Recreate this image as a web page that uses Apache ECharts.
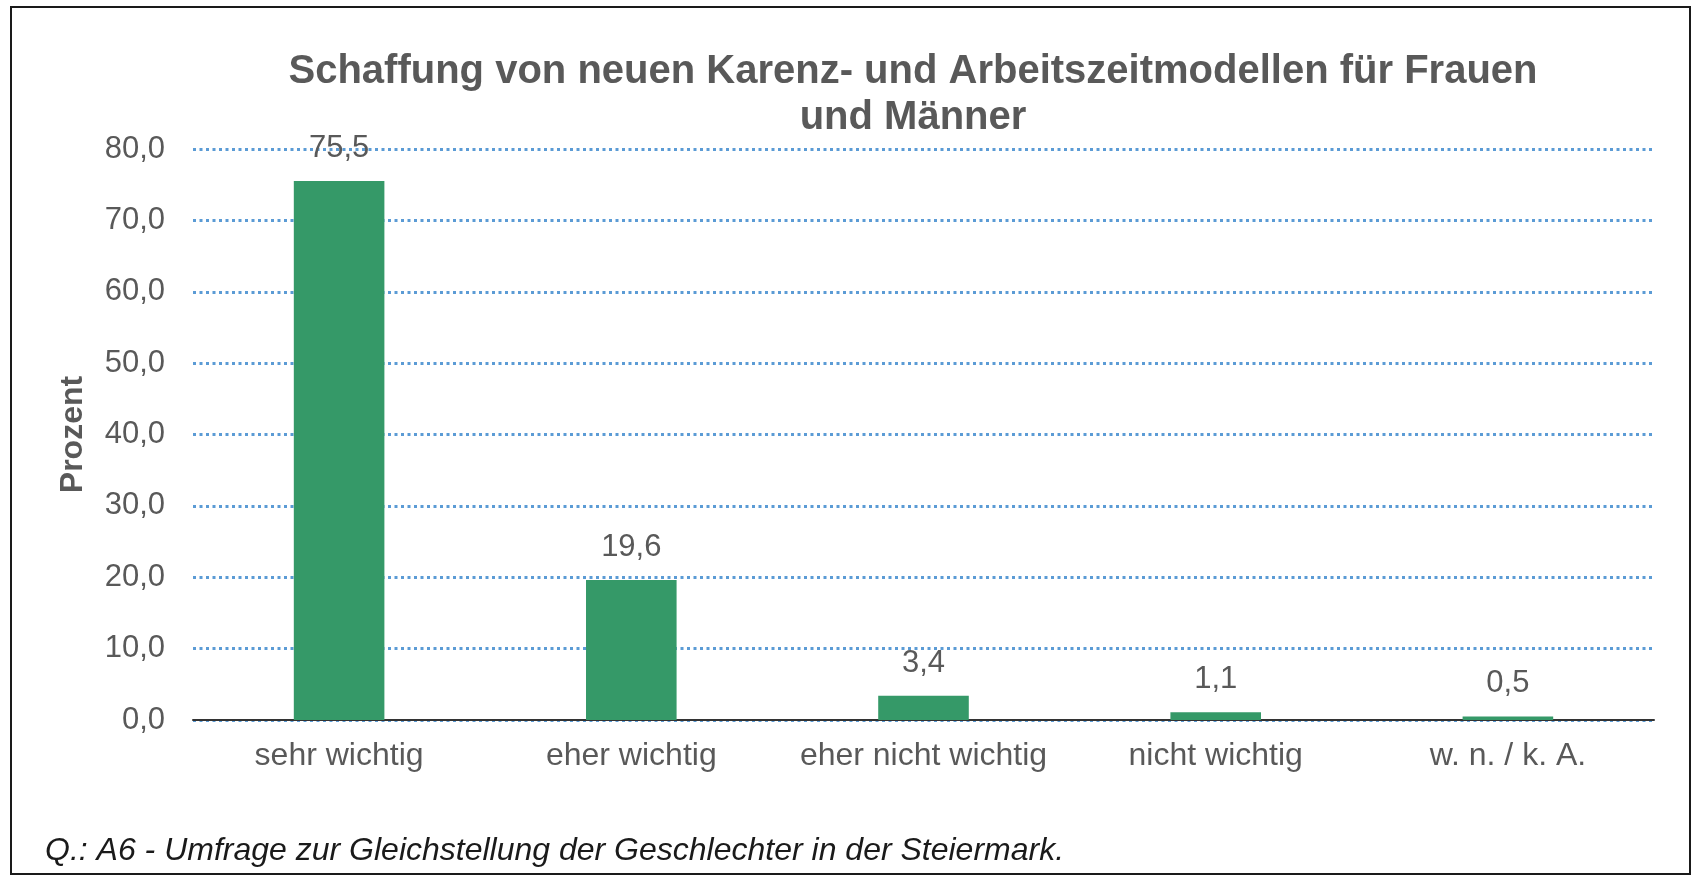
<!DOCTYPE html>
<html>
<head>
<meta charset="utf-8">
<script src="https://cdn.jsdelivr.net/npm/echarts@6/dist/echarts.min.js"></script>
<style>
  html, body { margin: 0; padding: 0; background: #fff; }
  #chart { width: 1701px; height: 880px; }
</style>
</head>
<body>
<div id="chart"></div>
<script>
// Daten
const categories = ['sehr wichtig', 'eher wichtig', 'eher nicht wichtig', 'nicht wichtig', 'w. n. / k. A.']
const prozent = [75.5, 19.6, 3.4, 1.1, 0.5]
const yTicks = { min: 0, max: 80, interval: 10 }

const chartTitle = 'Schaffung von neuen Karenz- und Arbeitszeitmodellen für Frauen\nund Männer'
const quelle = 'Q.: A6 - Umfrage zur Gleichstellung der Geschlechter in der Steiermark.'

// Dezimalkomma wie im Original
const fmt = v => Number(v).toFixed(1).replace('.', ',')

const font = 'Liberation Sans, Arial, sans-serif'
const grau = '#595959'

const chart = echarts.init(document.getElementById('chart'))

chart.setOption({
  animation: false,
  backgroundColor: '#fff',
  textStyle: { fontFamily: font },
  title: [
    {
      text: chartTitle,
      left: 908,
      top: 44,
      textAlign: 'center',
      textStyle: { fontFamily: font, fontSize: 40, fontWeight: 'bold', color: grau, lineHeight: 46 }
    },
    {
      text: quelle,
      left: 40,
      top: 830,
      textStyle: { fontFamily: font, fontSize: 32, fontStyle: 'italic', fontWeight: 'normal', color: '#1a1a1a' }
    }
  ],
  grid: { left: 193, right: 47, top: 149, bottom: 160 },
  xAxis: {
    type: 'category',
    data: categories,
    axisTick: { show: false },
    axisLine: { lineStyle: { color: '#333', width: 2 } },
    axisLabel: { color: grau, fontSize: 32, margin: 20, interval: 0, fontFamily: font }
  },
  yAxis: {
    type: 'value',
    min: yTicks.min,
    max: yTicks.max,
    interval: yTicks.interval,
    name: 'Prozent',
    nameLocation: 'middle',
    nameGap: 104,
    nameTextStyle: { color: grau, fontSize: 32, fontWeight: 'bold', fontFamily: font },
    axisLine: { show: false },
    axisTick: { show: false },
    axisLabel: { color: grau, fontSize: 31, margin: 28, fontFamily: font, formatter: fmt },
    splitLine: { lineStyle: { color: '#5B9BD5', width: 3, type: [3, 3.5] } }
  },
  series: [{
    type: 'bar',
    data: prozent,
    barWidth: '31%',
    itemStyle: { color: '#359968' },
    label: {
      show: true,
      position: 'top',
      distance: 17,
      color: grau,
      fontSize: 31,
      fontFamily: font,
      formatter: p => fmt(p.value)
    }
  }],
  graphic: [{
    type: 'rect',
    shape: { x: 11, y: 7, width: 1679, height: 867 },
    style: { fill: 'none', stroke: '#1a1a1a', lineWidth: 2 },
    silent: true
  }]
})
</script>
</body>
</html>
